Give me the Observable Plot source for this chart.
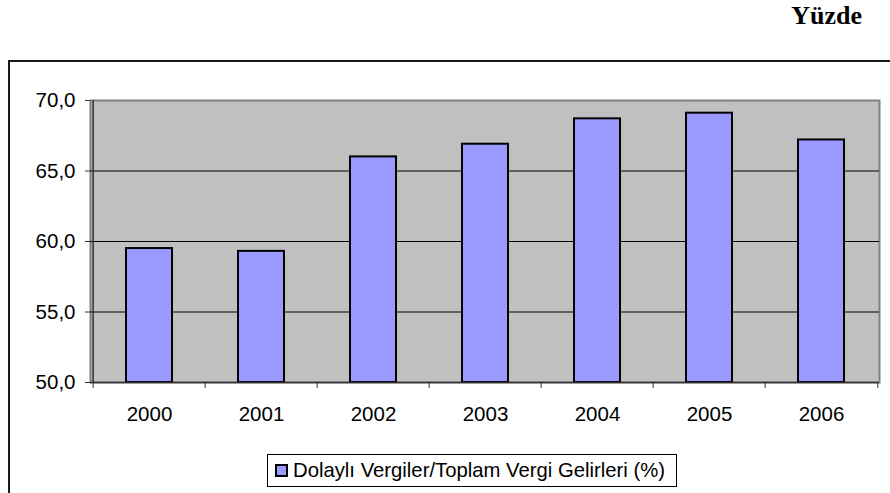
<!DOCTYPE html>
<html>
<head>
<meta charset="utf-8">
<script src="https://cdn.jsdelivr.net/npm/d3@7"></script>
<script src="https://cdn.jsdelivr.net/npm/@observablehq/plot@0.6"></script>
<style>
  html, body { margin: 0; padding: 0; background: #fff; }
  #chart { position: relative; width: 890px; height: 493px; overflow: hidden; background: #fff; }
  #chart svg { position: absolute; left: 0; top: 0; }
  #frame { position: absolute; left: 8px; top: 60px; width: 1000px; height: 1000px;
           border-left: 2px solid #1a1a1a; border-top: 2px solid #1a1a1a; box-sizing: border-box; }
  #title { position: absolute; right: 28px; top: 3px; font: bold 26px "Liberation Serif", "Times New Roman", serif;
           line-height: 1; color: #000; }
  #legend { position: absolute; left: 267px; top: 454px; width: 410px; height: 33px; box-sizing: border-box;
            border: 1px solid #000; background: #fff; display: flex; align-items: center; padding-left: 7px;
            font: 20.3px "Liberation Sans", Arial, sans-serif; color: #000; white-space: nowrap; }
  #legend .sw { display: inline-block; width: 13px; height: 13px; box-sizing: border-box; border: 2px solid #000;
                background: #9999FF; margin-right: 5px; }
</style>
</head>
<body>
<div id="chart">
  <div id="frame"></div>
  <div id="title">Yüzde</div>
  <div id="legend"><span class="sw"></span><span id="legendText"></span></div>
</div>
<script>
const years = ["2000", "2001", "2002", "2003", "2004", "2005", "2006"];
const values = [59.5, 59.3, 66.0, 66.9, 68.7, 69.1, 67.2];
const yTicks = [50, 55, 60, 65, 70];
const seriesName = "Dolaylı Vergiler/Toplam Vergi Gelirleri (%)";

const data = years.map((year, i) => ({year, value: values[i]}));

const W = 890, H = 493, mL = 90, mR = 11, mT = 100, mB = 111;
const step = (W - mL - mR) / years.length;
const yMin = yTicks[0], yMax = yTicks[yTicks.length - 1];

const chart = Plot.plot({
  width: W,
  height: H,
  marginLeft: mL,
  marginRight: mR,
  marginTop: mT,
  marginBottom: mB,
  style: {fontFamily: "'Liberation Sans', Arial, sans-serif", fontSize: "20px", color: "#000", background: "transparent", overflow: "visible"},
  x: {domain: years, paddingInner: 0.59, paddingOuter: 0.295, axis: null, label: null},
  y: {domain: [yMin, yMax], axis: null, label: null},
  marks: [
    Plot.frame({fill: "#C0C0C0", stroke: "#808080", strokeWidth: 2}),
    Plot.ruleY(yTicks.slice(1, -1), {stroke: "#000", strokeWidth: 1}),
    Plot.barY(data, {x: "year", y1: yMin, y2: "value", fill: "#9999FF", stroke: "#000", strokeWidth: 2}),
    Plot.ruleY([yMin], {stroke: "#333", strokeWidth: 1.5}),
    Plot.ruleX([years[0]], {dx: -step / 2, y1: yMin, y2: yMax, stroke: "#333", strokeWidth: 1.5}),
    Plot.axisY({ticks: yTicks, tickSize: 5, tickPadding: 10, stroke: "#333", label: null,
      tickFormat: d => d.toFixed(1).replace(".", ","), fontSize: 20.5}),
    Plot.axisX({ticks: years, tickSize: 6, tickFormat: () => "", dx: -step / 2, stroke: "#333", label: null}),
    Plot.axisX({ticks: [years[years.length - 1]], tickSize: 6, tickFormat: () => "", dx: step / 2, stroke: "#333", label: null}),
    Plot.axisX({ticks: years, tickSize: 0, tickPadding: 24, fontSize: 20.5, label: null})
  ]
});

document.getElementById("chart").appendChild(chart);
document.getElementById("legendText").textContent = seriesName;
</script>
</body>
</html>
